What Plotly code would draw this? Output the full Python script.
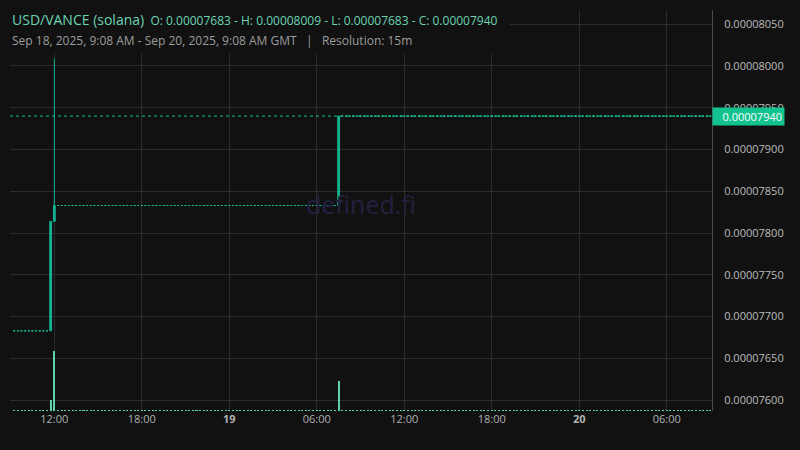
import pandas as pd
import plotly.graph_objects as go

# ---- data (15m candles, Sep 18 09:15 -> Sep 20 09:00 GMT) ----
times = pd.date_range("2025-09-18 09:15", "2025-09-20 09:00", freq="15min")

opens = ([0.00007683] * 10 + [0.00007683, 0.00007814] + [0.00007833] * 77
         + [0.00007833] + [0.00007940] * 102)
highs = ([0.00007683] * 10 + [0.00007814, 0.00008009] + [0.00007833] * 77
         + [0.00007940] + [0.00007940] * 102)
lows = ([0.00007683] * 10 + [0.00007683, 0.00007814] + [0.00007833] * 77
        + [0.00007833] + [0.00007940] * 102)
closes = ([0.00007683] * 10 + [0.00007814, 0.00007833] + [0.00007833] * 77
          + [0.00007940] + [0.00007940] * 102)
volumes = ([1.5] * 10 + [18, 100] + [1.5] * 77 + [50] + [1.5] * 102)

last_price = 0.00007940
price_ticks = [0.00007600, 0.00007650, 0.00007700, 0.00007750, 0.00007800,
               0.00007850, 0.00007900, 0.00007950, 0.00008000, 0.00008050]
x_tickvals = ["2025-09-18 12:00", "2025-09-18 18:00", "2025-09-19 00:00",
              "2025-09-19 06:00", "2025-09-19 12:00", "2025-09-19 18:00",
              "2025-09-20 00:00", "2025-09-20 06:00"]
x_ticktext = ["12:00", "18:00", "<b>19</b>", "06:00", "12:00", "18:00",
              "<b>20</b>", "06:00"]

title_main = "USD/VANCE (solana)"
title_ohlc = "O: 0.00007683 - H: 0.00008009 - L: 0.00007683 - C: 0.00007940"
subtitle = "Sep 18, 2025, 9:08 AM - Sep 20, 2025, 9:08 AM GMT   |   Resolution: 15m"

# ---- styles ----
BG = "#111111"
GRID = "#2c2c2c"
CANDLE = "#14b491"
VOL = "#5cd2ad"
TEAL_TXT = "#6ad3b1"
LABEL_BG = "#12c28f"
FONT = "Open Sans"

fig = go.Figure()

fig.add_trace(go.Candlestick(
    x=times, open=opens, high=highs, low=lows, close=closes,
    increasing=dict(line=dict(color=CANDLE, width=1), fillcolor=CANDLE),
    decreasing=dict(line=dict(color=CANDLE, width=1), fillcolor=CANDLE),
    whiskerwidth=0, showlegend=False, hoverinfo="skip",
))

fig.add_trace(go.Bar(
    x=times, y=volumes, yaxis="y2", marker=dict(color=VOL, line=dict(width=0)),
    width=500000, showlegend=False, hoverinfo="skip",
))

fig.update_layout(
    width=800, height=450,
    paper_bgcolor=BG, plot_bgcolor=BG,
    margin=dict(l=10, r=88, t=10, b=39),
    font=dict(family=FONT, color="#b8b8b8", size=11),
    bargap=0,
    xaxis=dict(
        type="date", automargin=False,
        range=["2025-09-18 08:57:36", "2025-09-20 09:06:24"],
        rangeslider=dict(visible=False),
        tickvals=x_tickvals, ticktext=x_ticktext,
        showgrid=True, gridcolor=GRID, gridwidth=1,
        showline=False, zeroline=False, ticks="",
        tickfont=dict(size=11, color="#b0b0b0", family=FONT),
    ),
    yaxis=dict(
        side="right", automargin=False,
        range=[0.00007587, 0.00008067],
        tickvals=price_ticks, tickformat=".8f",
        showgrid=True, gridcolor=GRID, gridwidth=1,
        showline=True, linecolor="#4a4a4a", linewidth=1,
        zeroline=False, ticks="", ticklabelstandoff=9,
        tickfont=dict(size=11, color="#bcbcbc", family=FONT),
    ),
    yaxis2=dict(
        overlaying="y", range=[0, 672], visible=False, showgrid=False,
    ),
)

# title backdrop covering the grid
fig.add_shape(type="rect", xref="paper", yref="paper",
              x0=0, x1=0.7123, y0=0.893, y1=1.0,
              fillcolor=BG, line=dict(width=0), layer="above")

# last price dotted line
fig.add_shape(type="line", xref="paper", yref="y", x0=0, x1=1,
              y0=last_price, y1=last_price,
              line=dict(color=LABEL_BG, width=1, dash="dot"), layer="above")

# watermark
fig.add_annotation(text="defined.fi", xref="paper", yref="paper",
                   x=(361 - 10) / 702, y=1 - (204 - 10) / 401,
                   showarrow=False,
                   font=dict(size=25, color="#22213f", family=FONT))

# title lines
fig.add_annotation(
    text=(f"<span style='font-size:14px'>{title_main}</span>"
          f"  {title_ohlc}"),
    xref="paper", yref="paper", x=0, y=1 - (19 - 10) / 401,
    xanchor="left", yanchor="middle", showarrow=False,
    font=dict(size=12, color=TEAL_TXT, family=FONT),
)
fig.add_annotation(
    text=subtitle, xref="paper", yref="paper", x=0, y=1 - (41 - 10) / 401,
    xanchor="left", yanchor="middle", showarrow=False,
    font=dict(size=12, color="#9c9c9c", family=FONT),
)

# last price label on the axis
fig.add_annotation(
    text="0.00007940", xref="paper", yref="y", x=1, y=last_price,
    xanchor="left", yanchor="middle", showarrow=False,
    bgcolor=LABEL_BG, borderpad=2, width=67, height=13, align="right",
    font=dict(size=11, color="#ffffff", family=FONT),
)

fig.write_html(
    "out.html",
    config={"displayModeBar": False},
    post_script="document.body.style.margin='0';"
                "document.body.style.background='#111111';",
)
